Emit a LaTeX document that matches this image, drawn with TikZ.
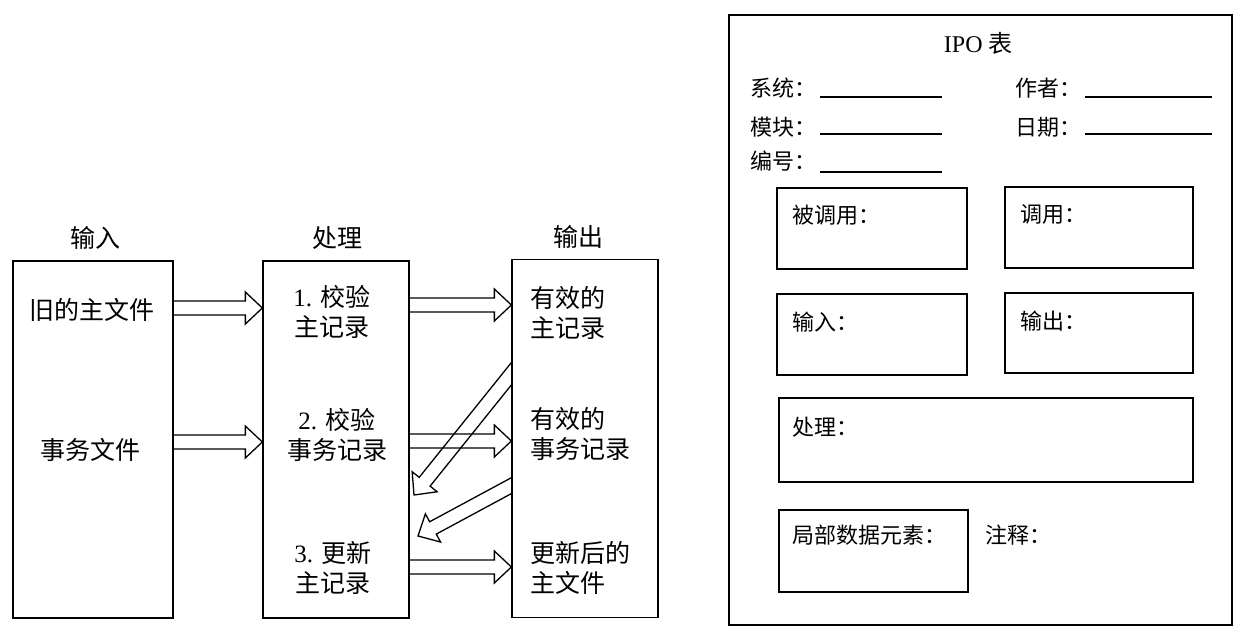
\documentclass[tikz,border=0pt]{standalone}
\usepackage{fontspec}
\setmainfont{Noto Sans CJK SC}
\newfontfamily\latinfont{Liberation Serif}
\usetikzlibrary{calc,backgrounds}

\tikzset{
  box/.style={draw, line width=1.3pt, fill=white, inner sep=0pt, rectangle},
  lbl/.style={inner sep=0pt, font=\fontsize{25}{30}\selectfont},
  olbl/.style={inner sep=0pt, anchor=west, align=left, font=\fontsize{25}{30}\selectfont},
  rlbl/.style={inner sep=0pt, anchor=west, font=\fontsize{22}{26}\selectfont},
  arrowline/.style={line width=1.3pt, line join=miter},
  uline/.style={line width=1.4pt},
}

\newcommand\hollowarr[2]{%
  \path (#1) coordinate (ha-s) (#2) coordinate (ha-e);
  \path ($(ha-e)!17pt!(ha-s)$) coordinate (ha-b);
  \draw[arrowline] ($(ha-s)!7pt!90:(ha-e)$) -- ($(ha-b)!7pt!-90:(ha-s)$)
    -- ($(ha-b)!16pt!-90:(ha-s)$) -- (ha-e) -- ($(ha-b)!16pt!90:(ha-s)$)
    -- ($(ha-b)!7pt!90:(ha-s)$) -- ($(ha-s)!7pt!-90:(ha-e)$);
}

\begin{document}
\begin{tikzpicture}[x=1pt,y=-1pt]
\useasboundingbox (0,0) rectangle (1255,642);

% ---------- left: IPO diagram ----------
\node[box, minimum width=160pt, minimum height=357pt] (inp) at (93,439.5) {};
\node[box, minimum width=146pt, minimum height=357pt] (proc) at (336,439.5) {};
\node[box, minimum width=146pt, minimum height=358pt] (outp) at (585,438.5) {};

\node[lbl] (tin) at (95,238) {输入};
\node[lbl] (tproc) at (337,238) {处理};
\node[lbl] (tout) at (578,237) {输出};

\node[lbl] (oldm) at (92,310) {旧的主文件};
\node[lbl] (trans) at (90,450) {事务文件};

\node[lbl, align=center] (p1) at (332,312) {{\latinfont 1. }校验\\主记录};
\node[lbl, align=center] (p2) at (337,435) {{\latinfont 2. }校验\\事务记录};
\node[lbl, align=center] (p3) at (333,567.5) {{\latinfont 3. }更新\\主记录};

\node[olbl] (o1) at (530,312.5) {有效的\\主记录};
\node[olbl] (o2) at (530,434) {有效的\\事务记录};
\node[olbl] (o3) at (530,567.5) {更新后的\\主文件};

\begin{scope}[on background layer]
  \coordinate (a1s) at (inp.east |- 0,308);  \coordinate (a1e) at (proc.west |- 0,308);
  \coordinate (a2s) at (inp.east |- 0,442);  \coordinate (a2e) at (proc.west |- 0,442);
  \coordinate (b1s) at (proc.east |- 0,305); \coordinate (b1e) at (outp.west |- 0,305);
  \coordinate (b2s) at (proc.east |- 0,441); \coordinate (b2e) at (outp.west |- 0,441);
  \coordinate (b3s) at (proc.east |- 0,567); \coordinate (b3e) at (outp.west |- 0,567);
  \coordinate (d1s) at (520,363); \coordinate (d1e) at (414,495);
  \coordinate (d2s) at (520,481); \coordinate (d2e) at (418,536);
  \hollowarr{a1s}{a1e}
  \hollowarr{a2s}{a2e}
  \hollowarr{b1s}{b1e}
  \hollowarr{b2s}{b2e}
  \hollowarr{b3s}{b3e}
  \hollowarr{d1s}{d1e}
  \hollowarr{d2s}{d2e}
\end{scope}

% ---------- right: IPO form ----------
\node[box, line width=1.6pt, minimum width=503pt, minimum height=610pt] (ipo) at (980.5,320) {};
\node[inner sep=0pt, font=\fontsize{24}{28}\selectfont] (title) at (978,43) {{\latinfont IPO} 表};

\node[rlbl] (sys) at (750,88) {系统：};
\node[rlbl] (mod) at (750,127) {模块：};
\node[rlbl] (num) at (750,161) {编号：};
\node[rlbl] (auth) at (1015,88) {作者：};
\node[rlbl] (date) at (1015,127) {日期：};
\draw[uline] (820,97) -- (942,97);
\draw[uline] (820,134) -- (942,134);
\draw[uline] (820,172) -- (942,172);
\draw[uline] (1085,97) -- (1212,97);
\draw[uline] (1085,134) -- (1212,134);

\node[box, minimum width=190pt, minimum height=81pt] (called) at (872,228.5) {};
\node[box, minimum width=188pt, minimum height=81pt] (calls) at (1099,227.5) {};
\node[box, minimum width=190pt, minimum height=81pt] (ibox) at (872,334.5) {};
\node[box, minimum width=188pt, minimum height=80pt] (obox) at (1099,333) {};
\node[box, minimum width=414pt, minimum height=84pt] (pbox) at (986,440) {};
\node[box, minimum width=189pt, minimum height=82pt] (lbox) at (873.5,551) {};

\node[rlbl] (tcalled) at (792,215) {被调用：};
\node[rlbl] (tcalls) at (1020,214) {调用：};
\node[rlbl] (tibox) at (792,322) {输入：};
\node[rlbl] (tobox) at (1020,321) {输出：};
\node[rlbl] (tpbox) at (792,427) {处理：};
\node[rlbl] (tlbox) at (792,535) {局部数据元素：};
\node[rlbl] (tnote) at (985,535) {注释：};
\end{tikzpicture}
\end{document}
